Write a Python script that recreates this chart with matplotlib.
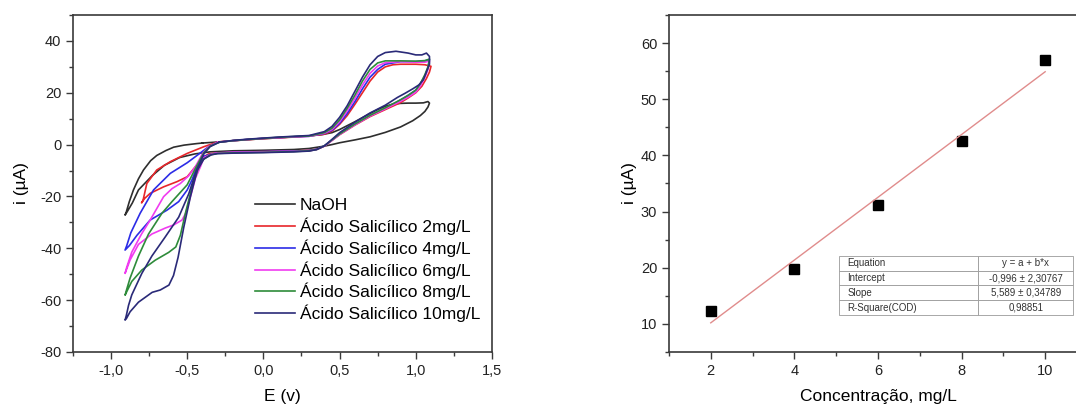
import numpy as np
import matplotlib.pyplot as plt
from matplotlib.ticker import MultipleLocator, FuncFormatter

plt.rcParams['font.family'] = ['Liberation Sans', 'DejaVu Sans']
plt.rcParams['axes.unicode_minus'] = False

# cyclic voltammograms, (E / V, i / uA) around each closed loop
naoh = [(-0.40, 0.6), (-0.30, 1.0), (-0.20, 1.5), (-0.10, 1.9), (0.00, 2.3), (0.10, 2.6), (0.20, 3.0),
        (0.30, 3.4), (0.38, 3.8), (0.45, 4.6), (0.50, 5.8), (0.55, 7.3), (0.60, 8.8), (0.65, 10.4),
        (0.70, 12.0), (0.75, 13.5), (0.80, 14.8), (0.85, 15.6), (0.90, 15.9), (0.95, 16.0), (1.00, 16.0),
        (1.05, 16.1), (1.08, 16.6), (1.09, 16.0), (1.08, 14.5), (1.06, 12.8), (1.03, 11.2), (0.98, 9.2),
        (0.90, 6.8), (0.80, 4.7), (0.70, 3.0), (0.60, 1.8), (0.50, 0.7), (0.45, 0.0), (0.40, -0.6),
        (0.30, -1.5), (0.20, -1.9), (0.00, -2.2), (-0.20, -2.4), (-0.35, -2.8), (-0.45, -3.6),
        (-0.55, -5.0), (-0.65, -8.0), (-0.73, -12.0), (-0.82, -17.5), (-0.86, -22.5), (-0.89, -25.5),
        (-0.908, -27.2), (-0.90, -26.0), (-0.88, -22.0), (-0.853, -17.5), (-0.82, -13.2), (-0.787, -9.8),
        (-0.74, -6.2), (-0.70, -4.2), (-0.64, -2.3), (-0.589, -1.0), (-0.52, -0.2), (-0.435, 0.4), (-0.40, 0.6)]

as_2 = [(-0.30, 1.0), (-0.20, 1.5), (-0.10, 1.9), (0.00, 2.3), (0.10, 2.6), (0.20, 2.9), (0.30, 3.3),
        (0.40, 4.0), (0.45, 5.2), (0.50, 7.8), (0.55, 11.2), (0.60, 15.5), (0.65, 20.0), (0.70, 24.5),
        (0.75, 28.0), (0.80, 30.0), (0.85, 30.8), (0.90, 31.0), (1.00, 31.0), (1.06, 30.8), (1.10, 30.2),
        (1.09, 28.0), (1.07, 25.5), (1.04, 22.5), (1.00, 20.0), (0.95, 18.0), (0.90, 16.2), (0.80, 13.5),
        (0.70, 10.8), (0.60, 7.5), (0.50, 3.8), (0.45, 1.6), (0.40, -0.6), (0.35, -1.8), (0.30, -2.2),
        (0.20, -2.5), (0.00, -2.7), (-0.20, -3.0), (-0.30, -3.2), (-0.36, -3.6), (-0.39, -4.7),
        (-0.446, -8.5), (-0.50, -12.4), (-0.567, -14.3), (-0.655, -16.3), (-0.743, -18.8), (-0.78, -20.8),
        (-0.80, -22.5), (-0.79, -21.5), (-0.765, -15.0), (-0.70, -9.8), (-0.611, -6.6), (-0.50, -3.4),
        (-0.39, -0.8), (-0.30, 1.0)]

as_4 = [(-0.30, 0.9), (-0.20, 1.5), (-0.10, 2.0), (0.00, 2.4), (0.10, 2.7), (0.20, 3.0), (0.30, 3.2),
        (0.40, 4.3), (0.45, 5.5), (0.50, 8.2), (0.55, 12.0), (0.60, 16.5), (0.65, 21.5), (0.70, 26.0),
        (0.75, 29.0), (0.80, 31.0), (0.90, 32.0), (1.00, 32.0), (1.06, 32.3), (1.09, 32.8), (1.08, 29.5),
        (1.06, 26.5), (1.03, 23.5), (1.00, 21.0), (0.95, 19.0), (0.90, 17.2), (0.80, 14.0), (0.70, 11.2),
        (0.60, 7.8), (0.50, 4.0), (0.45, 1.7), (0.40, -0.5), (0.35, -1.8), (0.30, -2.3), (0.20, -2.5),
        (0.00, -2.7), (-0.20, -3.0), (-0.30, -3.2), (-0.336, -3.6), (-0.39, -4.5), (-0.435, -8.5),
        (-0.468, -13.5), (-0.50, -17.5), (-0.556, -22.0), (-0.633, -25.3), (-0.743, -29.1), (-0.83, -35.0),
        (-0.88, -39.0), (-0.908, -40.7), (-0.897, -39.0), (-0.87, -34.0), (-0.809, -26.5), (-0.721, -17.5),
        (-0.611, -11.1), (-0.50, -7.0), (-0.42, -3.5), (-0.36, -0.8), (-0.30, 0.9)]

as_6 = [(-0.30, 0.9), (-0.20, 1.5), (-0.10, 2.0), (0.00, 2.4), (0.10, 2.7), (0.20, 3.0), (0.30, 3.2),
        (0.40, 4.4), (0.45, 5.8), (0.50, 8.8), (0.55, 13.0), (0.60, 17.8), (0.65, 23.0), (0.70, 27.5),
        (0.75, 30.3), (0.80, 31.6), (0.90, 32.0), (1.00, 31.8), (1.06, 31.8), (1.09, 32.2), (1.08, 29.0),
        (1.06, 26.0), (1.03, 22.5), (1.00, 20.2), (0.95, 18.3), (0.90, 16.7), (0.80, 13.8), (0.70, 11.0),
        (0.60, 7.6), (0.50, 3.9), (0.45, 1.6), (0.40, -0.6), (0.35, -1.9), (0.30, -2.4), (0.20, -2.6),
        (0.00, -2.8), (-0.20, -3.0), (-0.30, -3.2), (-0.336, -3.6), (-0.39, -5.0), (-0.413, -8.5),
        (-0.446, -13.0), (-0.479, -20.1), (-0.51, -26.5), (-0.534, -29.1), (-0.589, -31.0), (-0.644, -32.2),
        (-0.732, -34.5), (-0.82, -38.5), (-0.875, -44.5), (-0.908, -49.7), (-0.898, -47.5), (-0.864, -41.5),
        (-0.80, -34.5), (-0.743, -29.1), (-0.655, -20.1), (-0.60, -17.0), (-0.545, -15.0), (-0.49, -12.0),
        (-0.446, -8.5), (-0.40, -3.5), (-0.36, -0.8), (-0.30, 0.9)]

as_8 = [(-0.29, 0.9), (-0.20, 1.5), (-0.10, 2.0), (0.00, 2.4), (0.10, 2.8), (0.20, 3.1), (0.30, 3.3),
        (0.40, 4.6), (0.45, 6.3), (0.50, 9.5), (0.55, 14.0), (0.60, 19.0), (0.65, 24.5), (0.70, 29.0),
        (0.75, 31.5), (0.80, 32.3), (0.90, 32.3), (1.00, 32.2), (1.06, 32.4), (1.09, 33.0), (1.08, 30.0),
        (1.06, 27.0), (1.03, 23.5), (1.00, 21.0), (0.95, 19.0), (0.90, 17.3), (0.80, 14.2), (0.70, 11.3),
        (0.60, 7.9), (0.50, 4.1), (0.45, 1.8), (0.40, -0.5), (0.35, -1.9), (0.30, -2.4), (0.20, -2.7),
        (0.00, -3.0), (-0.20, -3.2), (-0.30, -3.4), (-0.35, -4.0), (-0.40, -6.0), (-0.43, -9.5),
        (-0.468, -16.3), (-0.512, -26.5), (-0.545, -35.0), (-0.575, -39.5), (-0.622, -41.6), (-0.71, -44.6),
        (-0.798, -48.4), (-0.864, -52.8), (-0.895, -56.5), (-0.908, -58.1), (-0.898, -56.0), (-0.875, -51.5),
        (-0.82, -43.0), (-0.754, -34.5), (-0.666, -26.5), (-0.60, -22.0), (-0.50, -15.5), (-0.44, -8.5),
        (-0.39, -3.0), (-0.35, -0.6), (-0.29, 0.9)]

as_10 = [(-0.29, 0.9), (-0.20, 1.6), (-0.10, 2.1), (0.00, 2.5), (0.10, 2.9), (0.20, 3.2), (0.30, 3.5),
         (0.40, 5.0), (0.45, 7.0), (0.50, 10.5), (0.55, 15.0), (0.60, 20.5), (0.65, 26.0), (0.70, 30.8),
         (0.75, 34.0), (0.80, 35.5), (0.87, 36.0), (0.95, 35.3), (1.00, 34.6), (1.04, 34.6), (1.07, 35.3),
         (1.09, 34.0), (1.09, 31.0), (1.07, 28.0), (1.05, 25.0), (1.02, 23.0), (0.98, 21.5), (0.93, 19.8),
         (0.88, 18.2), (0.80, 15.2), (0.70, 12.2), (0.60, 8.6), (0.50, 4.6), (0.45, 2.0), (0.40, -0.5),
         (0.35, -1.9), (0.30, -2.5), (0.20, -2.8), (0.00, -3.1), (-0.20, -3.3), (-0.30, -3.5), (-0.34, -3.9),
         (-0.39, -5.5), (-0.435, -10.0), (-0.479, -20.1), (-0.523, -32.0), (-0.56, -43.5), (-0.59, -50.5),
         (-0.62, -54.2), (-0.677, -56.1), (-0.73, -57.0), (-0.82, -60.8), (-0.875, -64.5), (-0.898, -67.0),
         (-0.908, -67.7), (-0.90, -66.0), (-0.885, -62.0), (-0.864, -58.0), (-0.798, -49.7), (-0.732, -43.0),
         (-0.644, -35.6), (-0.556, -28.0), (-0.49, -19.0), (-0.44, -10.0), (-0.39, -3.5), (-0.35, -0.8),
         (-0.29, 0.9)]

cv_curves = [naoh, as_2, as_4, as_6, as_8, as_10]
cv_labels = ['NaOH', 'Ácido Salicílico 2mg/L', 'Ácido Salicílico 4mg/L', 'Ácido Salicílico 6mg/L',
             'Ácido Salicílico 8mg/L', 'Ácido Salicílico 10mg/L']
cv_colors = ['#2e2e2e', '#e8262a', '#2c2ce6', '#f03cf0', '#2e8b3a', '#2a2a78']

# calibration
conc = [2, 4, 6, 8, 10]
peak_i = [12.3, 19.8, 31.1, 42.5, 56.9]
intercept, intercept_err = -0.996, 2.30767
slope, slope_err = 5.589, 0.34789
r_square = 0.98851

fig = plt.figure(figsize=(10.76, 4.05), dpi=100)
ax1 = fig.add_axes([0.0678, 0.131, 0.3894, 0.832])
ax2 = fig.add_axes([0.6217, 0.131, 0.3885, 0.832])

frame = '#3a3a3a'
for ax in (ax1, ax2):
    for s in ax.spines.values():
        s.set_color(frame)
        s.set_linewidth(1.2)
    ax.tick_params(which='both', direction='out', color=frame, width=1.0, labelsize=10.5,
                   top=False, right=False, labelcolor='#222222')
    ax.tick_params(which='major', length=5)
    ax.tick_params(which='minor', length=3)

for pts, lab, col in zip(cv_curves, cv_labels, cv_colors):
    e, i = np.array(pts).T
    ax1.plot(e, i, color=col, lw=1.2, label=lab, solid_joinstyle='round')

ax1.set_xlim(-1.25, 1.5)
ax1.set_ylim(-80, 50)
ax1.xaxis.set_major_locator(MultipleLocator(0.5))
ax1.xaxis.set_minor_locator(MultipleLocator(0.25))
ax1.yaxis.set_major_locator(MultipleLocator(20))
ax1.yaxis.set_minor_locator(MultipleLocator(10))
ax1.xaxis.set_major_formatter(FuncFormatter(lambda v, p: f'{v:.1f}'.replace('.', ',')))
ax1.set_xlabel('E (v)', fontsize=12.5, labelpad=8)
ax1.set_ylabel('i (µA)', fontsize=12.5, labelpad=8)
ax1.legend(loc='upper left', bbox_to_anchor=(0.434, 0.457), frameon=False, fontsize=12.5,
           handlelength=2.3, handletextpad=0.3, labelspacing=0.25, borderpad=0, borderaxespad=0)

# calibration curve with the linear fit
ax2.plot(conc, peak_i, 's', color='black', markersize=6.5)
fit_x = np.array([conc[0], conc[-1]])
ax2.plot(fit_x, intercept + slope * fit_x, color='#e08c8c', lw=1.0)
ax2.set_xlim(1, 11)
ax2.set_ylim(5, 65)
ax2.xaxis.set_major_locator(MultipleLocator(2))
ax2.xaxis.set_minor_locator(MultipleLocator(1))
ax2.yaxis.set_major_locator(MultipleLocator(10))
ax2.yaxis.set_minor_locator(MultipleLocator(5))
ax2.set_xlabel('Concentração, mg/L', fontsize=12.5, labelpad=8)
ax2.set_ylabel('i (µA)', fontsize=12.5, labelpad=3)

fmt = lambda v: f'{v}'.replace('.', ',')
rows = [['Equation', 'y = a + b*x'],
        ['Intercept', f'{fmt(intercept)} ± {fmt(intercept_err)}'],
        ['Slope', f'{fmt(slope)} ± {fmt(slope_err)}'],
        ['R-Square(COD)', fmt(r_square)]]
tb = ax2.table(cellText=rows, colWidths=[0.594, 0.406], bbox=[0.407, 0.11, 0.56, 0.175])
tb.auto_set_font_size(False)
for (r, c), cell in tb.get_celld().items():
    cell.set_edgecolor('#9a9a9a')
    cell.set_linewidth(0.6)
    cell.set_text_props(fontsize=7, color='#333333')
    if c == 0:
        cell.set_text_props(ha='left')
        cell.PAD = 0.06
    else:
        cell.set_text_props(ha='center')
        cell._loc = 'center'

fig.savefig('out.png', dpi=100)
